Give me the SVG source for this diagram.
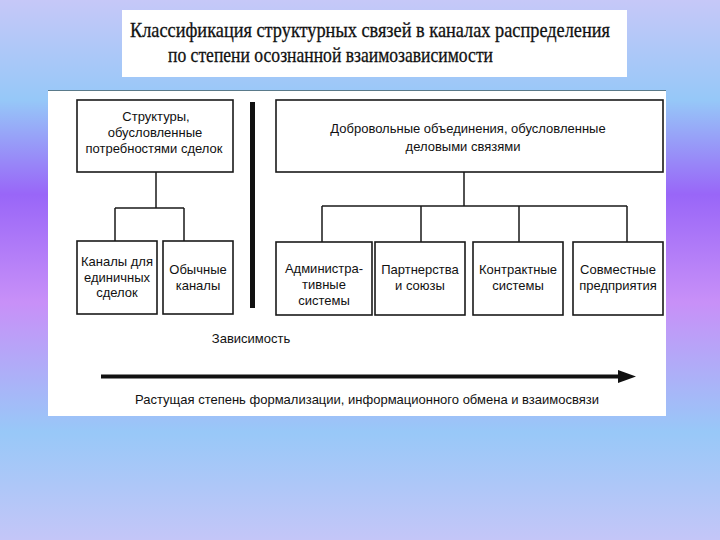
<svg xmlns="http://www.w3.org/2000/svg" width="720" height="540" viewBox="0 0 720 540">
  <defs>
    <linearGradient id="bg" x1="0" y1="0" x2="0" y2="1">
      <stop offset="0" stop-color="#c6c8f8"/>
      <stop offset="0.185" stop-color="#96c8f8"/>
      <stop offset="0.36" stop-color="#9966f8"/>
      <stop offset="0.56" stop-color="#c890f8"/>
      <stop offset="0.8" stop-color="#98c8f8"/>
      <stop offset="1" stop-color="#c4c6f8"/>
    </linearGradient>
    <style>
      .box { fill: #ffffff; stroke: #1a1a1a; stroke-width: 1.6; }
      .ln { fill: none; stroke: #1a1a1a; stroke-width: 1.5; }
      .t { font-family: "Liberation Sans", Arial, sans-serif; font-size: 13px; fill: #111111; text-anchor: middle; }
      .title { font-family: "Liberation Serif", "Times New Roman", serif; font-size: 21px; fill: #111111; stroke: #111111; stroke-width: 0.3; }
    </style>
  </defs>

  <rect x="0" y="0" width="720" height="540" fill="url(#bg)"/>

  <g id="title">
    <rect x="122" y="10" width="505" height="67" fill="#ffffff"/>
    <text class="title" x="130" y="37" textLength="480" lengthAdjust="spacingAndGlyphs">Классификация структурных связей в каналах распределения</text>
    <text class="title" x="168" y="62" textLength="325" lengthAdjust="spacingAndGlyphs">по степени осознанной взаимозависимости</text>
  </g>

  <g id="panel">
    <rect x="48" y="90" width="618" height="326" fill="#ffffff"/>
    <line x1="48" y1="90.5" x2="666" y2="90.5" stroke="#5a7a8a" stroke-width="1"/>
    <rect x="250" y="102" width="5" height="206" fill="#111111"/>
  </g>

  <g id="connectors">
    <path class="ln" d="M156,172 V208 M115,208 H184 M115,208 V241 M184,208 V241"/>
    <path class="ln" d="M464,172 V206 M322,206 H627 M322,206 V242 M421,206 V242 M519,206 V242 M627,206 V242"/>
    <line x1="101" y1="376.5" x2="622" y2="376.5" stroke="#111111" stroke-width="4"/>
    <polygon points="618,370 636,376.5 618,383" fill="#111111"/>
  </g>

  <g id="node-structures">
    <rect class="box" x="77" y="100" width="156" height="72"/>
    <text class="t" x="156" y="121">Структуры,</text>
    <text class="t" x="155" y="137">обусловленные</text>
    <text class="t" x="154" y="153">потребностями сделок</text>
  </g>

  <g id="node-single">
    <rect class="box" x="77" y="241" width="80" height="73"/>
    <text class="t" x="117" y="266">Каналы для</text>
    <text class="t" x="117" y="282">единичных</text>
    <text class="t" x="117" y="297">сделок</text>
  </g>

  <g id="node-usual">
    <rect class="box" x="163" y="241" width="70" height="73"/>
    <text class="t" x="198" y="274">Обычные</text>
    <text class="t" x="198" y="290">каналы</text>
  </g>

  <g id="node-voluntary">
    <rect class="box" x="276" y="100" width="387" height="72"/>
    <text class="t" x="468" y="133">Добровольные объединения, обусловленные</text>
    <text class="t" x="463" y="151">деловыми связями</text>
  </g>

  <g id="node-admin">
    <rect class="box" x="276" y="242" width="96" height="73"/>
    <text class="t" x="324" y="273">Администра-</text>
    <text class="t" x="324" y="289">тивные</text>
    <text class="t" x="324" y="305">системы</text>
  </g>

  <g id="node-partner">
    <rect class="box" x="375" y="242" width="90" height="73"/>
    <text class="t" x="420" y="274">Партнерства</text>
    <text class="t" x="420" y="290">и союзы</text>
  </g>

  <g id="node-contract">
    <rect class="box" x="473" y="242" width="90" height="73"/>
    <text class="t" x="518" y="274">Контрактные</text>
    <text class="t" x="518" y="290">системы</text>
  </g>

  <g id="node-joint">
    <rect class="box" x="573" y="242" width="90" height="73"/>
    <text class="t" x="618" y="274">Совместные</text>
    <text class="t" x="618" y="290">предприятия</text>
  </g>

  <g id="labels">
    <text class="t" x="251" y="343">Зависимость</text>
    <text class="t" x="367" y="404">Растущая степень формализации, информационного обмена и взаимосвязи</text>
  </g>
</svg>
